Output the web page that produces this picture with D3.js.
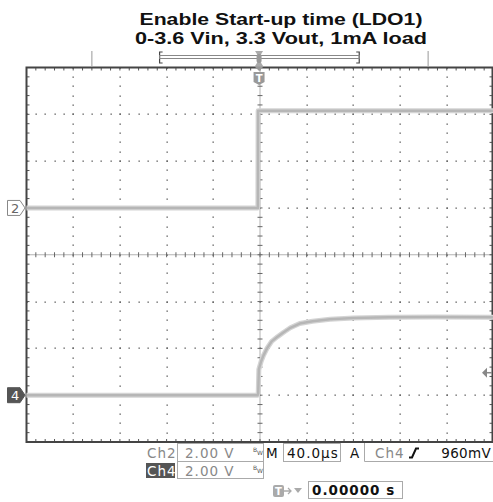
<!DOCTYPE html>
<html>
<head>
<meta charset="utf-8">
<script src="https://cdn.jsdelivr.net/npm/d3@7"></script>
<style>
  body { margin: 0; background: #fff; }
  svg { display: block; }
  .ro { font-family: "DejaVu Sans", sans-serif; font-size: 13.5px; letter-spacing: 1px; }
</style>
</head>
<body>
<script>
// title lines
var titleLines = ["Enable Start-up time (LDO1)", "0-3.6 Vin, 3.3 Vout, 1mA load"];
var titleWidths = [283, 292];

// time in µs (40 µs/div, 10 div), trigger at 0
var timeDomain = [-200, 200];
var divDomain = [-4, 4];

// ch2 (enable), volts, 2 V/div, ground at +1 div
var ch2Offset = 1;
var ch2 = [[-200, 0], [-1.8, 0], [-1.6, 4.15], [200, 4.15]];

// ch4 (LDO1 out), volts, 2 V/div, ground at -3 div
var ch4Offset = -3;
var ch4 = [[-200, 0], [-2, 0], [-1.5, 0.1], [-1, 1.1], [1, 1.45], [3, 1.7], [6, 2.0],
  [10, 2.3], [15, 2.5], [20, 2.68], [26, 2.88], [34, 3.06], [45, 3.16], [60, 3.24],
  [80, 3.3], [110, 3.33], [150, 3.34], [200, 3.33]];

var voltsPerDiv = 2;
var trigLevel = 0.96; // V on ch4

// record-length ruler marks (µs)
var rulerMarks = [-144, 144];
var windowBracket = [-86, 85];

var readout = {
  ch2: "Ch2", ch2Scale: "2.00 V",
  ch4: "Ch4", ch4Scale: "2.00 V",
  timebase: "40.0µs", trigSrc: "Ch4", trigLvl: "960mV",
  position: "0.00000 s"
};

var W = 493, H = 502;
var svg = d3.select("body").append("svg").attr("width", W).attr("height", H);

var x = d3.scaleLinear().domain(timeDomain).range([26.5, 493.5]);
var y = d3.scaleLinear().domain(divDomain).range([442, 67.5]);

// title
svg.selectAll("text.title")
  .data(titleLines)
  .enter()
  .append("text")
  .attr("x", 281)
  .attr("y", (d, i) => 25 + i * 18.5)
  .attr("text-anchor", "middle")
  .attr("textLength", (d, i) => titleWidths[i])
  .attr("lengthAdjust", "spacingAndGlyphs")
  .style("font-family", "Liberation Sans, Arial, sans-serif")
  .style("font-weight", "bold")
  .style("font-size", "16.5px")
  .style("fill", "#111")
  .text(d => d);

// ruler
svg.selectAll("line.rmark")
  .data(rulerMarks)
  .enter()
  .append("line")
  .attr("x1", d => x(d)).attr("x2", d => x(d))
  .attr("y1", 51).attr("y2", 66)
  .style("stroke", "#999").style("stroke-width", 1);

var bx0 = x(windowBracket[0]), bx1 = x(windowBracket[1]);
svg.append("path")
  .attr("d", "M" + (bx0 + 3) + ",52H" + bx0 + "V63H" + (bx0 + 3))
  .style("fill", "none").style("stroke", "#444").style("stroke-width", 1.2);
svg.append("path")
  .attr("d", "M" + (bx1 - 3) + ",52H" + bx1 + "V63H" + (bx1 - 3))
  .style("fill", "none").style("stroke", "#444").style("stroke-width", 1.2);
svg.append("rect")
  .attr("x", bx0).attr("y", 55.5).attr("width", bx1 - bx0).attr("height", 3)
  .style("fill", "none").style("stroke", "#888").style("stroke-width", 1);

// trigger position marker on ruler
var tx = x(-0.8);
svg.append("path")
  .attr("d", "M" + (tx - 4) + ",51H" + (tx + 4) + "L" + (tx + 1.5) + ",55V62L" + (tx + 4) + ",66H" + (tx - 4) + "L" + (tx - 1.5) + ",62V55Z")
  .style("fill", "#aaa");
svg.append("rect").attr("x", tx - 2.5).attr("y", 54).attr("width", 5).attr("height", 9).attr("rx", 2)
  .style("fill", "#999");

// graticule dots
var majorX = d3.range(-160, 161, 40).filter(d => d !== 0);
var majorY = d3.range(-3, 4, 1).filter(d => d !== 0);
var minorT = d3.range(-200, 200.01, 8);
var minorD = d3.range(-4, 4.001, 0.2);

var dots = [];
majorX.forEach(t => minorD.forEach(v => dots.push([t, v])));
majorY.forEach(v => minorT.forEach(t => dots.push([t, v])));

svg.selectAll("rect.dot")
  .data(dots)
  .enter()
  .append("rect")
  .attr("x", d => Math.round(x(d[0])) - 0.5)
  .attr("y", d => Math.round(y(d[1])) - 0.5)
  .attr("width", 1.3).attr("height", 1.3)
  .style("fill", "#555");

// center cross
svg.append("line")
  .attr("x1", x(timeDomain[0])).attr("x2", x(timeDomain[1]))
  .attr("y1", y(0)).attr("y2", y(0))
  .style("stroke", "#666").style("stroke-width", 1).style("stroke-dasharray", "1,1");
svg.append("line")
  .attr("x1", x(0)).attr("x2", x(0))
  .attr("y1", y(4)).attr("y2", y(-4))
  .style("stroke", "#666").style("stroke-width", 1).style("stroke-dasharray", "1,1");

svg.selectAll("line.ctx")
  .data(minorT)
  .enter()
  .append("line")
  .attr("x1", d => x(d)).attr("x2", d => x(d))
  .attr("y1", y(0) - 2.5).attr("y2", y(0) + 2.5)
  .style("stroke", "#666").style("stroke-width", 1);
svg.selectAll("line.cty")
  .data(minorD)
  .enter()
  .append("line")
  .attr("x1", x(0) - 2.5).attr("x2", x(0) + 2.5)
  .attr("y1", d => y(d)).attr("y2", d => y(d))
  .style("stroke", "#666").style("stroke-width", 1);

// border ticks
svg.selectAll("line.btop")
  .data(minorT)
  .enter()
  .append("line")
  .attr("x1", d => x(d)).attr("x2", d => x(d))
  .attr("y1", y(4)).attr("y2", d => y(4) + 3)
  .style("stroke", "#555").style("stroke-width", 1);
svg.selectAll("line.bbot")
  .data(minorT)
  .enter()
  .append("line")
  .attr("x1", d => x(d)).attr("x2", d => x(d))
  .attr("y1", y(-4)).attr("y2", d => y(-4) - 3)
  .style("stroke", "#555").style("stroke-width", 1);
svg.selectAll("line.bl")
  .data(minorD)
  .enter()
  .append("line")
  .attr("x1", x(-200)).attr("x2", x(-200) + 3)
  .attr("y1", d => y(d)).attr("y2", d => y(d))
  .style("stroke", "#555").style("stroke-width", 1);
svg.selectAll("line.br")
  .data(minorD)
  .enter()
  .append("line")
  .attr("x1", x(200) - 1).attr("x2", x(200) - 4)
  .attr("y1", d => y(d)).attr("y2", d => y(d))
  .style("stroke", "#555").style("stroke-width", 1);

// frame
svg.append("path")
  .attr("d", "M" + x(-200) + "," + y(-4) + "V" + y(4) + "H" + (x(200) - 1) + "V" + y(-4) + "Z")
  .style("fill", "none").style("stroke", "#444").style("stroke-width", 2);

// traces
var line2 = d3.line().x(d => x(d[0])).y(d => y(d[1] / voltsPerDiv + ch2Offset));
var line4 = d3.line().x(d => x(d[0])).y(d => y(d[1] / voltsPerDiv + ch4Offset));

[[ch2, line2], [ch4, line4]].forEach(function (p) {
  svg.append("path").attr("d", p[1](p[0]))
    .style("fill", "none").style("stroke", "#d4d4d4").style("stroke-width", 5)
    .style("stroke-linejoin", "round");
  svg.append("path").attr("d", p[1](p[0]))
    .style("fill", "none").style("stroke", "#b6b6b6").style("stroke-width", 2.5)
    .style("stroke-linejoin", "round");
});

// channel ground markers
function chMarker(label, yy, dark) {
  var g = svg.append("g").attr("transform", "translate(0," + yy + ")");
  g.append("path")
    .attr("d", "M7.5,-7.5H20L25,0L20,7.5H7.5Z")
    .style("fill", dark ? "#555" : "#fff")
    .style("stroke", dark ? "#555" : "#888").style("stroke-width", 1);
  g.append("text").attr("x", 11).attr("y", 5)
    .style("font-family", "DejaVu Sans, sans-serif").style("font-size", "13px")
    .style("fill", dark ? "#fff" : "#666")
    .text(label);
}
chMarker("2", y(ch2Offset), false);
chMarker("4", y(ch4Offset), true);

// trigger position T under top border
var tg = svg.append("g").attr("transform", "translate(" + tx + ",0)");
tg.append("path").attr("d", "M-4,67H4L0,71Z").style("fill", "#999");
tg.append("path").attr("d", "M-5.5,72H5.5V82L0,85L-5.5,82Z").style("fill", "#999");
tg.append("text").attr("x", 0).attr("y", 81.5).attr("text-anchor", "middle")
  .style("font-family", "DejaVu Sans, sans-serif").style("font-size", "10px").style("font-weight", "bold")
  .style("fill", "#fff").text("T");

// trigger level arrow on right
var ty = y(trigLevel / voltsPerDiv + ch4Offset);
svg.append("path").attr("d", "M482," + ty + "L487," + (ty - 5) + "V" + (ty + 5) + "Z").style("fill", "#888");
svg.append("line").attr("x1", 487).attr("x2", 492).attr("y1", ty).attr("y2", ty)
  .style("stroke", "#888").style("stroke-width", 1.5);

// readouts
var boxStroke = "#aaa";
function box(x0, y0, w, h) {
  svg.append("rect").attr("x", x0 + 0.5).attr("y", y0 + 0.5).attr("width", w).attr("height", h)
    .style("fill", "none").style("stroke", boxStroke).style("stroke-width", 1);
}
function txt(s, xx, yy, col, bold) {
  return svg.append("text").attr("class", "ro").attr("x", xx).attr("y", yy)
    .style("fill", col).style("font-weight", bold ? "bold" : "normal").text(s);
}
function bw(xx, yy) {
  var t = svg.append("text").attr("x", xx).attr("y", yy)
    .style("font-family", "DejaVu Sans, sans-serif").style("font-size", "6px").style("fill", "#555");
  t.append("tspan").text("B");
  t.append("tspan").attr("dy", 3).text("W");
}

box(177, 443, 86, 18);
box(177, 461, 86, 17);
txt(readout.ch2, 147, 458, "#888", false);
txt(readout.ch2Scale, 185, 458, "#888", false);
bw(253, 452);

svg.append("rect").attr("x", 146).attr("y", 463).attr("width", 29).attr("height", 15).style("fill", "#555");
txt(readout.ch4, 147, 476, "#fff", false);
txt(readout.ch4Scale, 185, 476, "#888", false);
bw(253, 470);

txt("M", 266, 458, "#111", false).style("letter-spacing", "0px");
box(283, 443, 57, 18);
txt(readout.timebase, 287, 458, "#111", false);

txt("A", 350, 458, "#111", false);
svg.append("path").attr("d", "M364.5,443V461.5H493").style("fill", "none").style("stroke", boxStroke);
txt(readout.trigSrc, 375, 458, "#888", false);
svg.append("path").attr("d", "M409,457.5H412L416,448.5H419").style("fill", "none").style("stroke", "#111").style("stroke-width", 2);
txt(readout.trigLvl, 491, 458, "#111", false)
  .attr("text-anchor", "end").style("letter-spacing", "0.3px");

// horizontal position
svg.append("rect").attr("x", 273).attr("y", 485).attr("width", 11).attr("height", 12).attr("rx", 2).style("fill", "#aaa");
svg.append("text").attr("x", 278.5).attr("y", 495).attr("text-anchor", "middle")
  .style("font-family", "DejaVu Sans, sans-serif").style("font-size", "10px").style("font-weight", "bold")
  .style("fill", "#fff").text("T");
svg.append("path").attr("d", "M284,491H291M288,488L291,491L288,494").style("fill", "none").style("stroke", "#aaa").style("stroke-width", 1.3);
svg.append("path").attr("d", "M294,488H302L298,493Z").style("fill", "#aaa");
box(308, 481, 94, 17);
txt(readout.position, 312, 495, "#111", true);
</script>
</body>
</html>
